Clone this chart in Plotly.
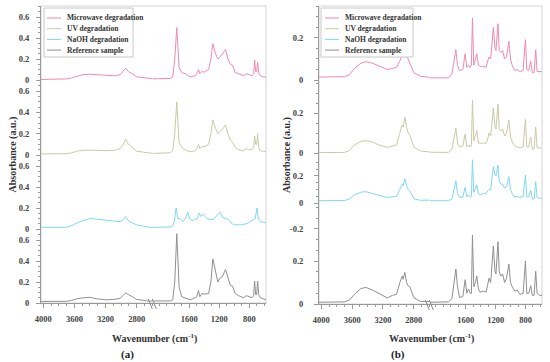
import plotly.graph_objects as go

W, H = 550, 362

series_names = ["Microwave degradation", "UV degradation", "NaOH degradation", "Reference sample"]
series_colors = ["#F08AAE", "#C9CBA6", "#7ED9F2", "#909090"]

# ---------------- Panel (a) data ----------------
wn_a = [4030, 3700, 3636, 3571, 3486, 3400, 3314, 3186, 3079, 3014, 2971, 2941, 2907, 2877, 2856, 2800, 2671, 2586,
        2100, 1853, 1818, 1791, 1764, 1751, 1733, 1698, 1653, 1587, 1520,
        1498, 1476, 1458, 1431, 1400, 1342, 1311, 1285, 1249, 1218,
        1187, 1160, 1116, 1085, 1054, 1023, 987, 943, 876, 841,
        810, 765, 743, 730, 716, 703, 690, 676, 654, 579]
abs_a_microwave = [0.005, 0.01, 0.02, 0.035, 0.052, 0.055, 0.05, 0.04, 0.04, 0.05, 0.08, 0.11, 0.08, 0.07, 0.06, 0.03, 0.015, 0.012,
                   0.01, 0.015, 0.03, 0.2, 0.5, 0.3, 0.12, 0.07, 0.06, 0.03, 0.04,
                   0.06, 0.1, 0.06, 0.08, 0.075, 0.1, 0.2, 0.345, 0.25, 0.2,
                   0.22, 0.25, 0.29, 0.2, 0.15, 0.14, 0.07, 0.06, 0.04, 0.06,
                   0.05, 0.04, 0.06, 0.19, 0.08, 0.08, 0.17, 0.07, 0.04, 0.025]
abs_a_uv = [0.01, 0.012, 0.02, 0.035, 0.045, 0.048, 0.045, 0.04, 0.045, 0.06, 0.1, 0.15, 0.1, 0.09, 0.07, 0.035, 0.02, 0.015,
            0.015, 0.02, 0.04, 0.2, 0.5, 0.3, 0.12, 0.07, 0.05, 0.03, 0.04,
            0.06, 0.1, 0.06, 0.08, 0.075, 0.1, 0.2, 0.33, 0.25, 0.2,
            0.22, 0.24, 0.28, 0.2, 0.14, 0.12, 0.07, 0.05, 0.04, 0.06,
            0.05, 0.05, 0.07, 0.18, 0.1, 0.1, 0.2, 0.07, 0.04, 0.03]
abs_a_reference = [0.015, 0.016, 0.025, 0.04, 0.05, 0.054, 0.04, 0.03, 0.035, 0.045, 0.075, 0.095, 0.08, 0.065, 0.06, 0.035, 0.02, 0.018,
                   0.015, 0.02, 0.03, 0.2, 0.66, 0.4, 0.15, 0.06, 0.045, 0.03, 0.05,
                   0.06, 0.12, 0.06, 0.09, 0.085, 0.09, 0.2, 0.42, 0.3, 0.2,
                   0.24, 0.25, 0.32, 0.24, 0.17, 0.16, 0.09, 0.07, 0.05, 0.07,
                   0.06, 0.05, 0.07, 0.21, 0.08, 0.08, 0.21, 0.08, 0.05, 0.03]
wn_a_naoh = [4030, 3700, 3614, 3529, 3400, 3271, 3100, 3014, 2971, 2941, 2907, 2864, 2800, 2671, 2586,
             2100, 1831, 1800, 1773, 1751, 1720, 1684, 1649, 1618, 1587,
             1551, 1520, 1498, 1467, 1445, 1418, 1400, 1365, 1320, 1276,
             1231, 1187, 1156, 1120, 1076, 1045, 1009, 921, 832, 788,
             743, 721, 699, 681, 654, 579]
abs_a_naoh = [0.016, 0.016, 0.04, 0.07, 0.1, 0.09, 0.07, 0.07, 0.09, 0.12, 0.08, 0.06, 0.04, 0.02, 0.015,
              0.015, 0.02, 0.06, 0.2, 0.1, 0.1, 0.07, 0.1, 0.16, 0.09,
              0.08, 0.1, 0.09, 0.15, 0.12, 0.14, 0.13, 0.1, 0.09, 0.09,
              0.13, 0.16, 0.11, 0.1, 0.09, 0.06, 0.04, 0.04, 0.05, 0.07,
              0.09, 0.1, 0.2, 0.1, 0.07, 0.06]

# ---------------- Panel (b) data ----------------
wn_b = [4030, 3700, 3636, 3571, 3486, 3421, 3336, 3250, 3143, 3079, 3024, 2981, 2950, 2937, 2916, 2894, 2873, 2851, 2800, 2714, 2586,
        2100,
        1831, 1786, 1755, 1733, 1711, 1684, 1640, 1609, 1587, 1564,
        1542, 1525, 1511, 1493, 1471, 1453, 1431, 1409, 1365, 1329,
        1307, 1289, 1267, 1249, 1231, 1209, 1196, 1169, 1152, 1129,
        1107, 1080, 1054, 1023, 1001, 978, 943, 912, 876, 832,
        801, 783, 756, 730, 708, 685, 663, 645, 610, 565]
abs_b_microwave = [0.014, 0.016, 0.025, 0.055, 0.08, 0.087, 0.08, 0.065, 0.05, 0.055, 0.06, 0.09, 0.12, 0.11, 0.148, 0.11, 0.1, 0.08, 0.035, 0.018, 0.012,
                   0.01,
                   0.01, 0.03, 0.1, 0.144, 0.07, 0.045, 0.05, 0.125, 0.06, 0.07,
                   0.06, 0.07, 0.295, 0.07, 0.1, 0.125, 0.07, 0.065, 0.065, 0.06,
                   0.09, 0.11, 0.1, 0.18, 0.25, 0.15, 0.14, 0.268, 0.14, 0.13,
                   0.14, 0.1, 0.11, 0.184, 0.1, 0.07, 0.045, 0.05, 0.04, 0.045,
                   0.192, 0.05, 0.045, 0.09, 0.035, 0.035, 0.144, 0.04, 0.04, 0.04]
abs_b_uv = [0.002, 0.003, 0.012, 0.04, 0.058, 0.062, 0.055, 0.04, 0.028, 0.035, 0.04, 0.1, 0.14, 0.13, 0.18, 0.13, 0.1, 0.09, 0.03, 0.01, 0.005,
            0.003,
            0.003, 0.02, 0.08, 0.123, 0.05, 0.03, 0.035, 0.095, 0.03, 0.04,
            0.03, 0.04, 0.265, 0.06, 0.09, 0.112, 0.05, 0.048, 0.05, 0.048,
            0.07, 0.1, 0.085, 0.15, 0.225, 0.13, 0.12, 0.245, 0.12, 0.11,
            0.12, 0.085, 0.1, 0.165, 0.08, 0.055, 0.035, 0.03, 0.025, 0.03,
            0.168, 0.03, 0.03, 0.08, 0.02, 0.02, 0.13, 0.025, 0.025, 0.025]
abs_b_naoh = [0.017, 0.018, 0.03, 0.06, 0.08, 0.084, 0.07, 0.055, 0.04, 0.045, 0.05, 0.1, 0.14, 0.13, 0.18, 0.13, 0.1, 0.09, 0.03, 0.02, 0.017,
              0.017,
              0.017, 0.03, 0.11, 0.165, 0.07, 0.04, 0.045, 0.116, 0.045, 0.06,
              0.045, 0.05, 0.32, 0.08, 0.11, 0.135, 0.07, 0.06, 0.07, 0.07,
              0.09, 0.1, 0.1, 0.19, 0.27, 0.21, 0.2, 0.28, 0.16, 0.14,
              0.14, 0.11, 0.12, 0.195, 0.1, 0.07, 0.045, 0.05, 0.04, 0.05,
              0.207, 0.045, 0.045, 0.095, 0.03, 0.03, 0.158, 0.04, 0.035, 0.035]
abs_b_reference = [0.008, 0.01, 0.018, 0.045, 0.072, 0.077, 0.065, 0.05, 0.028, 0.04, 0.045, 0.1, 0.13, 0.115, 0.147, 0.1, 0.085, 0.08, 0.03, 0.012, 0.01,
                   0.008,
                   0.01, 0.025, 0.1, 0.163, 0.08, 0.03, 0.035, 0.113, 0.05, 0.07,
                   0.05, 0.05, 0.32, 0.08, 0.1, 0.13, 0.07, 0.055, 0.06, 0.055,
                   0.09, 0.12, 0.1, 0.18, 0.27, 0.15, 0.14, 0.29, 0.15, 0.13,
                   0.14, 0.1, 0.12, 0.186, 0.1, 0.08, 0.06, 0.065, 0.045, 0.05,
                   0.2, 0.05, 0.05, 0.085, 0.04, 0.04, 0.152, 0.05, 0.04, 0.04]

# x tick labels (broken axis)
seg1_ticks = [4000, 3600, 3200, 2800]
seg2_ticks = [1600, 1200, 800]
seg1_range = [4030, 2596]
seg2_range = [2080, 579]

# ---------------- layout geometry (pixels) ----------------
FONT = "Liberation Serif"
AXC = "#9a9a9a"
FRAME = "#d4d4d4"

panels = [
    dict(letter="(a)", left=41, brk=152.5, right=266, top=6, bottom=303,
         rows=[(6, 80), (80, 155), (155, 229), (229, 303)],
         yranges=[(0, 0.705)] * 4,
         yticks=[([0, 0.2, 0.4, 0.6], ["0", "0.2", "0.4", "0.6"])] * 4,
         spectra=[(wn_a, abs_a_microwave), (wn_a, abs_a_uv), (wn_a_naoh, abs_a_naoh), (wn_a, abs_a_reference)],
         standoff=5, ytitle_x=12, xtitle_x=154, letter_x=127, legend=(44, 133, 8, 57), leg_line=(47, 61), leg_text=65),
    dict(letter="(b)", left=319, brk=429.5, right=542, top=6, bottom=304,
         rows=[(6, 80), (80, 156), (156, 203), (203, 304)],
         yranges=[(0, 0.352), (-0.015, 0.365), (0, 0.348), (0, 0.47)],
         yticks=[([0, 0.2], ["0", "0.2"]), ([0, 0.2], ["0", "0.2"]), ([0, 0.2], ["0", "0.2"]),
                 ([0, 0.2, 0.35], ["0", "0.2", "-0.2"])],
         spectra=[(wn_b, abs_b_microwave), (wn_b, abs_b_uv), (wn_b, abs_b_naoh), (wn_b, abs_b_reference)],
         standoff=9, ytitle_x=287, xtitle_x=431, letter_x=398, legend=(321, 413, 8, 57), leg_line=(325, 339), leg_text=343),
]


def fx(px):
    return px / W


def fy(py):
    return 1 - py / H


fig = go.Figure()
layout = dict(width=W, height=H, margin=dict(l=0, r=0, t=0, b=0, autoexpand=False), paper_bgcolor="white",
              plot_bgcolor="rgba(0,0,0,0)", showlegend=False, font=dict(family=FONT, color="#333"))
shapes, annotations = [], []

tickfont = dict(family=FONT, size=8.5, color="#444", weight="bold")

for pi, p in enumerate(panels):
    xs1 = 2 * pi + 1
    xs2 = 2 * pi + 2
    ybase = 4 * pi
    xn1 = "xaxis" if xs1 == 1 else f"xaxis{xs1}"
    xn2 = f"xaxis{xs2}"
    xid1 = "x" if xs1 == 1 else f"x{xs1}"
    xid2 = f"x{xs2}"
    yid_bottom = f"y{ybase + 4}"

    common_x = dict(showgrid=False, zeroline=False, showline=True, linecolor=AXC, linewidth=1,
                    ticks="outside", ticklen=4, tickcolor=AXC, tickfont=tickfont, ticklabelstandoff=4,
                    anchor=yid_bottom, automargin=False)
    layout[xn1] = dict(domain=[fx(p["left"]), fx(p["brk"])], range=seg1_range, tickmode="array",
                       tickvals=seg1_ticks, ticktext=[str(t) for t in seg1_ticks],
                       minor=dict(tickmode="linear", tick0=0, dtick=100, ticklen=2, ticks="outside", tickcolor=AXC),
                       **common_x)
    layout[xn2] = dict(domain=[fx(p["brk"] + 0.5), fx(p["right"])], range=seg2_range, tickmode="array",
                       tickvals=seg2_ticks, ticktext=[str(t) for t in seg2_ticks],
                       minor=dict(tickmode="linear", tick0=0, dtick=100, ticklen=2, ticks="outside", tickcolor=AXC),
                       **common_x)

    for r in range(4):
        yn = ybase + r + 1
        yname = "yaxis" if yn == 1 else f"yaxis{yn}"
        yid = "y" if yn == 1 else f"y{yn}"
        t, b = p["rows"][r]
        tv, tt = p["yticks"][r]
        layout[yname] = dict(domain=[fy(b), fy(t)], range=list(p["yranges"][r]), anchor=xid1,
                             showgrid=False, zeroline=False, showline=True, linecolor=AXC, linewidth=1,
                             ticks="outside", ticklen=4, tickcolor=AXC, tickmode="array", automargin=False,
                             tickvals=tv, ticktext=tt, tickfont=tickfont, ticklabelstandoff=p["standoff"],
                             minor=dict(tickmode="linear", tick0=0, dtick=0.05, ticklen=2, ticks="outside", tickcolor=AXC))
        wn, ab = p["spectra"][r]
        for xid in (xid1, xid2):
            fig.add_trace(go.Scatter(x=wn, y=ab, mode="lines", xaxis=xid, yaxis=yid,
                                     line=dict(color=series_colors[r], width=1),
                                     name=series_names[r], hoverinfo="skip", showlegend=False))

    # frame (top and right light border)
    shapes.append(dict(type="rect", xref="paper", yref="paper", x0=fx(p["left"]), x1=fx(p["right"]),
                       y0=fy(p["bottom"]), y1=fy(p["top"]), line=dict(color=FRAME, width=1), layer="below"))
    # axis break marks
    for dx in (-2.2, 1.8):
        bx = p["brk"] + dx
        shapes.append(dict(type="line", xref="paper", yref="paper", x0=fx(bx - 2), x1=fx(bx + 2),
                           y0=fy(p["bottom"] - 4), y1=fy(p["bottom"] + 6), line=dict(color="#888", width=1)))
    # legend box
    lx0, lx1, ly0, ly1 = p["legend"]
    shapes.append(dict(type="rect", xref="paper", yref="paper", x0=fx(lx0), x1=fx(lx1), y0=fy(ly1), y1=fy(ly0),
                       line=dict(color="#c8c8c8", width=1), fillcolor="white", layer="above"))
    for k, (nm, col) in enumerate(zip(series_names, series_colors)):
        yy = ly0 + 10 + k * 10.7
        shapes.append(dict(type="line", xref="paper", yref="paper", x0=fx(p["leg_line"][0]), x1=fx(p["leg_line"][1]),
                           y0=fy(yy), y1=fy(yy), line=dict(color=col, width=1)))
        annotations.append(dict(text=nm, xref="paper", yref="paper", x=fx(p["leg_text"]), y=fy(yy),
                                xanchor="left", yanchor="middle", showarrow=False,
                                font=dict(family=FONT, size=7.5, color="#333", weight="bold")))
    # titles
    annotations.append(dict(text="Absorbance (a.u.)", xref="paper", yref="paper", x=fx(p["ytitle_x"]),
                            y=fy((p["top"] + p["bottom"]) / 2), textangle=-90, showarrow=False,
                            xanchor="center", yanchor="middle",
                            font=dict(family=FONT, size=10, color="#333", weight="bold")))
    annotations.append(dict(text="Wavenumber (cm<sup>-1</sup>)", xref="paper", yref="paper", x=fx(p["xtitle_x"]),
                            y=fy(338), showarrow=False, xanchor="center", yanchor="middle",
                            font=dict(family=FONT, size=10, color="#333", weight="bold")))
    annotations.append(dict(text=p["letter"], xref="paper", yref="paper", x=fx(p["letter_x"]),
                            y=fy(354), showarrow=False, xanchor="center", yanchor="middle",
                            font=dict(family=FONT, size=11, color="#222", weight="bold")))

layout["shapes"] = shapes
layout["annotations"] = annotations
fig.update_layout(**layout)
fig.write_html("out.html", config={"displayModeBar": False, "staticPlot": True},
               post_script="document.body.style.margin='0';document.body.style.padding='0';")
